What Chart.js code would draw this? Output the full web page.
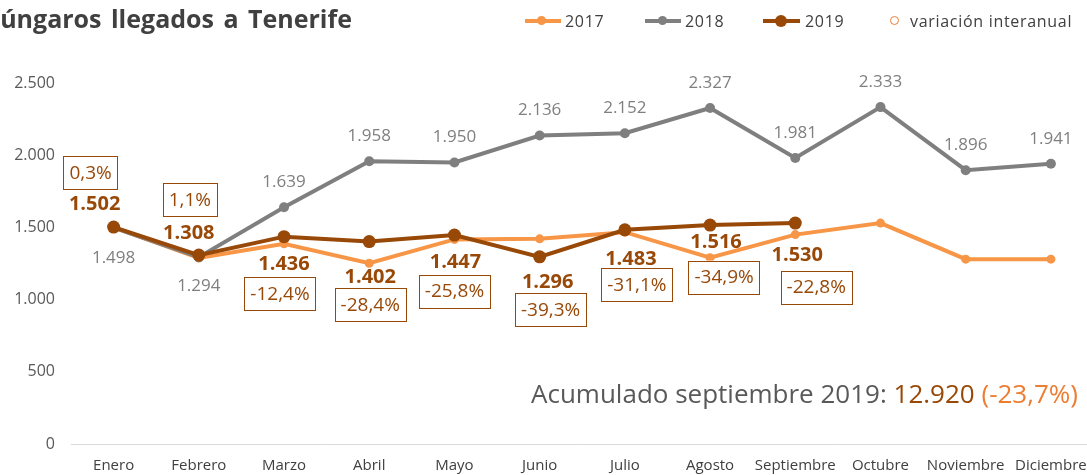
<!DOCTYPE html>
<html>
<head>
<meta charset="utf-8">
<script src="https://cdn.jsdelivr.net/npm/chart.js@4"></script>
<style>
  html, body { margin: 0; padding: 0; background: #fff; overflow: hidden; }
  body { width: 1087px; height: 475px; position: relative; font-family: 'Open Sans', sans-serif; }
  #wrap { position: absolute; left: 0; top: 0; width: 1100px; height: 475px; }
  #title { position: absolute; top: 1px; left: 0; font: bold 25px 'Open Sans', sans-serif; color: #404040; white-space: nowrap; word-spacing: 3px; }
  .leg { position: absolute; top: 10px; font-size: 16px; letter-spacing: 0.7px; color: #404040; white-space: nowrap; }
  .sw { position: absolute; height: 4px; top: 19px; }
  .dot { position: absolute; border-radius: 50%; }
  #acum { position: absolute; right: 9px; top: 375px; font-size: 26px; color: #595959; white-space: nowrap; }
</style>
</head>
<body>
<div id="wrap"><canvas id="chart" width="1100" height="475"></canvas></div>
<div id="title"><span id="h">H</span>úngaros llegados a Tenerife</div>

<div class="sw" style="left:525px;width:36px;background:#F79646"></div>
<div class="dot" style="left:537px;top:16px;width:9px;height:9px;background:#F79646"></div>
<div class="leg" style="left:565px">2017</div>

<div class="sw" style="left:645px;width:36px;background:#7F7F7F"></div>
<div class="dot" style="left:658px;top:16px;width:9px;height:9px;background:#7F7F7F"></div>
<div class="leg" style="left:685px">2018</div>

<div class="sw" style="left:763px;width:37px;background:#984807"></div>
<div class="dot" style="left:775px;top:15px;width:12px;height:12px;background:#984807"></div>
<div class="leg" style="left:805px">2019</div>

<div class="dot" style="left:890px;top:16px;width:7px;height:7px;border:1.5px solid #ED7D31"></div>
<div class="leg" style="left:910px">variación interanual</div>

<div id="acum">Acumulado septiembre 2019: <span style="color:#984807">12.920</span> <span style="color:#ED7D31">(-23,7%)</span></div>

<script>
// datos
const meses = ['Enero', 'Febrero', 'Marzo', 'Abril', 'Mayo', 'Junio', 'Julio', 'Agosto', 'Septiembre', 'Octubre', 'Noviembre', 'Diciembre'];
const v2017 = [1500, 1288, 1387, 1252, 1417, 1421, 1467, 1290, 1450, 1530, 1280, 1280];
const v2018 = [1498, 1294, 1639, 1958, 1950, 2136, 2152, 2327, 1981, 2333, 1896, 1941];
const v2019 = [1502, 1308, 1436, 1402, 1447, 1296, 1483, 1516, 1530];
const variacion = [0.3, 1.1, -12.4, -28.4, -25.8, -39.3, -31.1, -34.9, -22.8];
const yTicks = [0, 500, 1000, 1500, 2000, 2500];

// title: the H is cut off in the reference
const title = document.getElementById('title');
title.style.left = -document.getElementById('h').offsetWidth + 'px';

function miles(n) {
    return String(n).replace(/\B(?=(\d{3})+(?!\d))/g, '.');
}
function pct(n) {
    return n.toFixed(1).replace('.', ',') + '%';
}

const GRIS = '#7F7F7F', NAR = '#F79646', MARRON = '#984807';

// label offsets from the point (x, y)
const off2018 = [[0, 30], [0, 29]];
const off2019 = [[-19, -23], [-10, -22], [0, 28], [1, 36], [1, 27], [8, 25], [6, 29], [6, 17], [2, 32]];
const offBox = [[-23, -55], [-9, -56], [-4, 57], [1, 63], [0, 56], [11, 53], [12, 55], [14, 52], [21, 64]];

const etiquetas = {
    id: 'etiquetas',
    afterDatasetsDraw(chart) {
        const ctx = chart.ctx;
        ctx.save();
        ctx.textAlign = 'center';
        ctx.textBaseline = 'middle';

        const m18 = chart.getDatasetMeta(1).data;
        ctx.font = '17px "Open Sans"';
        ctx.fillStyle = GRIS;
        m18.forEach((p, i) => {
            const o = off2018[i] || [0, -25];
            ctx.fillText(miles(v2018[i]), p.x + o[0], p.y + o[1]);
        });

        const m19 = chart.getDatasetMeta(2).data;
        m19.forEach((p, i) => {
            ctx.font = 'bold 20px "Open Sans"';
            ctx.fillStyle = MARRON;
            ctx.fillText(miles(v2019[i]), p.x + off2019[i][0], p.y + off2019[i][1]);

            ctx.font = '19px "Open Sans"';
            const t = pct(variacion[i]);
            const w = ctx.measureText(t).width + 12;
            const h = 33;
            const cx = p.x + offBox[i][0], cy = p.y + offBox[i][1];
            ctx.fillStyle = '#fff';
            ctx.fillRect(cx - w / 2, cy - h / 2, w, h);
            ctx.strokeStyle = MARRON;
            ctx.lineWidth = 1;
            ctx.strokeRect(Math.round(cx - w / 2) + 0.5, Math.round(cy - h / 2) + 0.5, Math.round(w), h);
            ctx.fillStyle = MARRON;
            ctx.fillText(t, cx, cy + 1);
        });
        ctx.restore();
    }
};

new Chart(document.getElementById('chart'), {
    type: 'line',
    data: {
        labels: meses,
        datasets: [
            { label: '2017', data: v2017, borderColor: NAR, backgroundColor: NAR, borderWidth: 4, pointRadius: 4.5, pointBorderWidth: 0, order: 3 },
            { label: '2018', data: v2018, borderColor: GRIS, backgroundColor: GRIS, borderWidth: 4, pointRadius: 5, pointBorderWidth: 0, order: 2 },
            { label: '2019', data: v2019, borderColor: MARRON, backgroundColor: MARRON, borderWidth: 4, pointRadius: 6.5, pointBorderWidth: 0, order: 1 }
        ]
    },
    options: {
        responsive: false,
        animation: false,
        events: [],
        layout: { padding: { top: 83, right: 0, bottom: 0, left: 0 } },
        plugins: { legend: { display: false }, tooltip: { enabled: false } },
        scales: {
            x: {
                offset: true,
                afterFit: s => { s.height = 31; },
                grid: { display: false },
                border: { display: true, color: '#D9D9D9', width: 1 },
                ticks: { color: '#404040', font: { family: 'Open Sans', size: 15 }, padding: 5, autoSkip: false, maxRotation: 0 }
            },
            y: {
                min: 0,
                max: 2500,
                afterBuildTicks: s => { s.ticks = yTicks.map(v => ({ value: v })); },
                afterFit: s => { s.width = 71; },
                grid: { display: false },
                border: { display: false },
                ticks: { color: '#595959', font: { family: 'Open Sans', size: 16 }, padding: 8, callback: v => miles(v) }
            }
        }
    },
    plugins: [etiquetas]
});
</script>
</body>
</html>
